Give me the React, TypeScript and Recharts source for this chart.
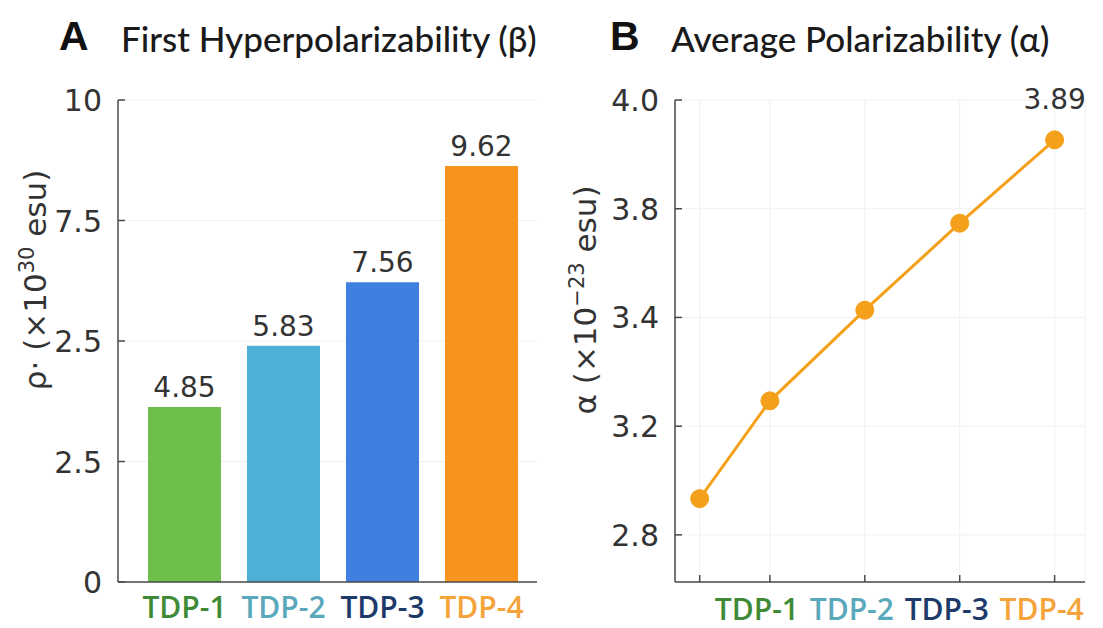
import React from "react";
import {
  BarChart,
  Bar,
  Cell,
  LineChart,
  Line,
  XAxis,
  YAxis,
  CartesianGrid,
  LabelList,
} from "recharts";

const categories = ["TDP-1", "TDP-2", "TDP-3", "TDP-4"];
const betaHeights = [3.63, 4.9, 6.22, 8.63];
const betaLabels = ["4.85", "5.83", "7.56", "9.62"];
const betaTicks = [0, 2.5, 5, 7.5, 10];
const betaTickLabels = ["0", "2.5", "2.5", "7.5", "10"];
const barColors = ["#6dbe4b", "#4db0d6", "#3e7fe0", "#f7941d"];
const labelColors = ["#3f8a36", "#5aa8bc", "#1d3a6b", "#f4a43a"];

const alphaX = [0.26, 1, 2, 3, 4];
const alphaValues = [2.9, 3.17, 3.42, 3.66, 3.89];
const alphaTicks = [2.8, 3.1, 3.4, 3.7, 4.0];
const alphaTickLabels = ["2.8", "3.2", "3.4", "3.8", "4.0"];

const betaData = categories.map((name, i) => ({ name, value: betaHeights[i] }));
const alphaData = alphaX.map((x, i) => ({ x, value: alphaValues[i] }));

const numFont = "'DejaVu Sans', sans-serif";
const axisColor = "#4a4a4a";
const orange = "#f5a01a";

const makeYTick = (labels: string[]) => (props: any) => {
  const { x, y, index } = props;
  return (
    <g>
      <line x1={x + 16} x2={x + 23} y1={y} y2={y} stroke={axisColor} strokeWidth={1.5} />
      <text x={x} y={y} dy={11} textAnchor="end" fontSize={30} fontFamily={numFont} fill="#333">
        {labels[index]}
      </text>
    </g>
  );
};

const BetaXTick = (props: any) => {
  const { x, y, index } = props;
  return (
    <text
      x={x}
      y={y + 36}
      textAnchor="middle"
      fontSize={30}
      fontWeight={600}
      fontFamily="'Open Sans', sans-serif"
      fill={labelColors[index]}
    >
      {categories[index]}
    </text>
  );
};

const AlphaXTick = (props: any) => {
  const { x, y, index } = props;
  return (
    <g>
      <line x1={x} x2={x} y1={y} y2={y - 7} stroke={axisColor} strokeWidth={1.5} />
      {index > 0 && (
        <text
          x={x - 13}
          y={y + 38}
          textAnchor="middle"
          fontSize={30}
          fontWeight={600}
          fontFamily="'Open Sans', sans-serif"
          fill={labelColors[index - 1]}
        >
          {categories[index - 1]}
        </text>
      )}
    </g>
  );
};

const titleStyle: React.CSSProperties = {
  position: "absolute",
  top: 17,
  fontFamily: "Lato, sans-serif",
  fontSize: 35,
  fontWeight: 500,
  color: "#1a1a1a",
  whiteSpace: "nowrap",
};

const letterStyle: React.CSSProperties = {
  position: "absolute",
  top: 13,
  fontFamily: "'Liberation Sans', sans-serif",
  fontWeight: 700,
  fontSize: 41,
  color: "#111",
};

const yTitleStyle: React.CSSProperties = {
  position: "absolute",
  transform: "translate(-50%, -50%) rotate(-90deg)",
  fontFamily: numFont,
  fontSize: 31,
  color: "#333",
  whiteSpace: "nowrap",
};

export default function App() {
  return (
    <div
      style={{
        position: "relative",
        width: 1103,
        height: 628,
        margin: -8,
        background: "#fff",
        overflow: "hidden",
      }}
    >
      {/* titles */}
      <div style={{ ...letterStyle, left: 59 }}>A</div>
      <div style={{ ...titleStyle, left: 121 }}>First Hyperpolarizability (β)</div>
      <div style={{ ...letterStyle, left: 610 }}>B</div>
      <div style={{ ...titleStyle, left: 671 }}>Average Polarizability (α)</div>

      {/* y-axis titles */}
      <div style={{ ...yTitleStyle, left: 34, top: 280 }}>
        ρ· (×10<sup style={{ fontSize: 21 }}>30</sup> esu)
      </div>
      <div style={{ ...yTitleStyle, left: 584, top: 300 }}>
        α (×10<sup style={{ fontSize: 21 }}>−23</sup> esu)
      </div>

      {/* panel A */}
      <div style={{ position: "absolute", left: 0, top: 0 }}>
        <BarChart
          width={560}
          height={628}
          data={betaData}
          margin={{ top: 100, right: 23, bottom: 0, left: 0 }}
        >
          <CartesianGrid vertical={false} stroke="#efefef" />
          <XAxis
            dataKey="name"
            height={46}
            padding={{ left: 17, right: 6 }}
            tickLine={false}
            tickSize={0}
            tickMargin={0}
            stroke={axisColor}
            strokeWidth={1.5}
            tick={<BetaXTick />}
            interval={0}
          />
          <YAxis
            width={118}
            domain={[0, 10]}
            ticks={betaTicks}
            tickLine={false}
            tickSize={0}
            tickMargin={16}
            stroke={axisColor}
            strokeWidth={1.5}
            tick={makeYTick(betaTickLabels)}
            interval={0}
          />
          <Bar dataKey="value" barSize={73} isAnimationActive={false}>
            {betaData.map((d, i) => (
              <Cell key={d.name} fill={barColors[i]} />
            ))}
            <LabelList
              dataKey="value"
              content={(p: any) => (
                <text
                  x={p.x + p.width / 2}
                  y={p.y - 10}
                  textAnchor="middle"
                  fontSize={28}
                  fontFamily={numFont}
                  fill="#333"
                >
                  {betaLabels[p.index]}
                </text>
              )}
            />
          </Bar>
        </BarChart>
      </div>

      {/* panel B */}
      <div style={{ position: "absolute", left: 560, top: 0 }}>
        <LineChart
          width={543}
          height={628}
          data={alphaData}
          margin={{ top: 100, right: 18, bottom: 0, left: 0 }}
        >
          <CartesianGrid stroke="#f0f0f0" />
          <XAxis
            dataKey="x"
            type="number"
            domain={[0, 4.32]}
            ticks={alphaX}
            height={46}
            tickLine={false}
            tickSize={0}
            tickMargin={0}
            stroke={axisColor}
            strokeWidth={1.5}
            tick={<AlphaXTick />}
            interval={0}
          />
          <YAxis
            width={115}
            domain={[2.67, 4.0]}
            ticks={alphaTicks}
            tickLine={false}
            tickSize={0}
            tickMargin={16}
            stroke={axisColor}
            strokeWidth={1.5}
            tick={makeYTick(alphaTickLabels)}
            interval={0}
            allowDataOverflow
          />
          <Line
            type="linear"
            dataKey="value"
            stroke={orange}
            strokeWidth={3}
            dot={{ r: 9, fill: orange, stroke: orange, strokeWidth: 1 }}
            isAnimationActive={false}
          >
            <LabelList
              dataKey="value"
              content={(p: any) =>
                p.index === alphaValues.length - 1 ? (
                  <text
                    x={p.x}
                    y={p.y - 31}
                    textAnchor="middle"
                    fontSize={28}
                    fontFamily={numFont}
                    fill="#333"
                  >
                    {Number(p.value).toFixed(2)}
                  </text>
                ) : null
              }
            />
          </Line>
        </LineChart>
      </div>
    </div>
  );
}
